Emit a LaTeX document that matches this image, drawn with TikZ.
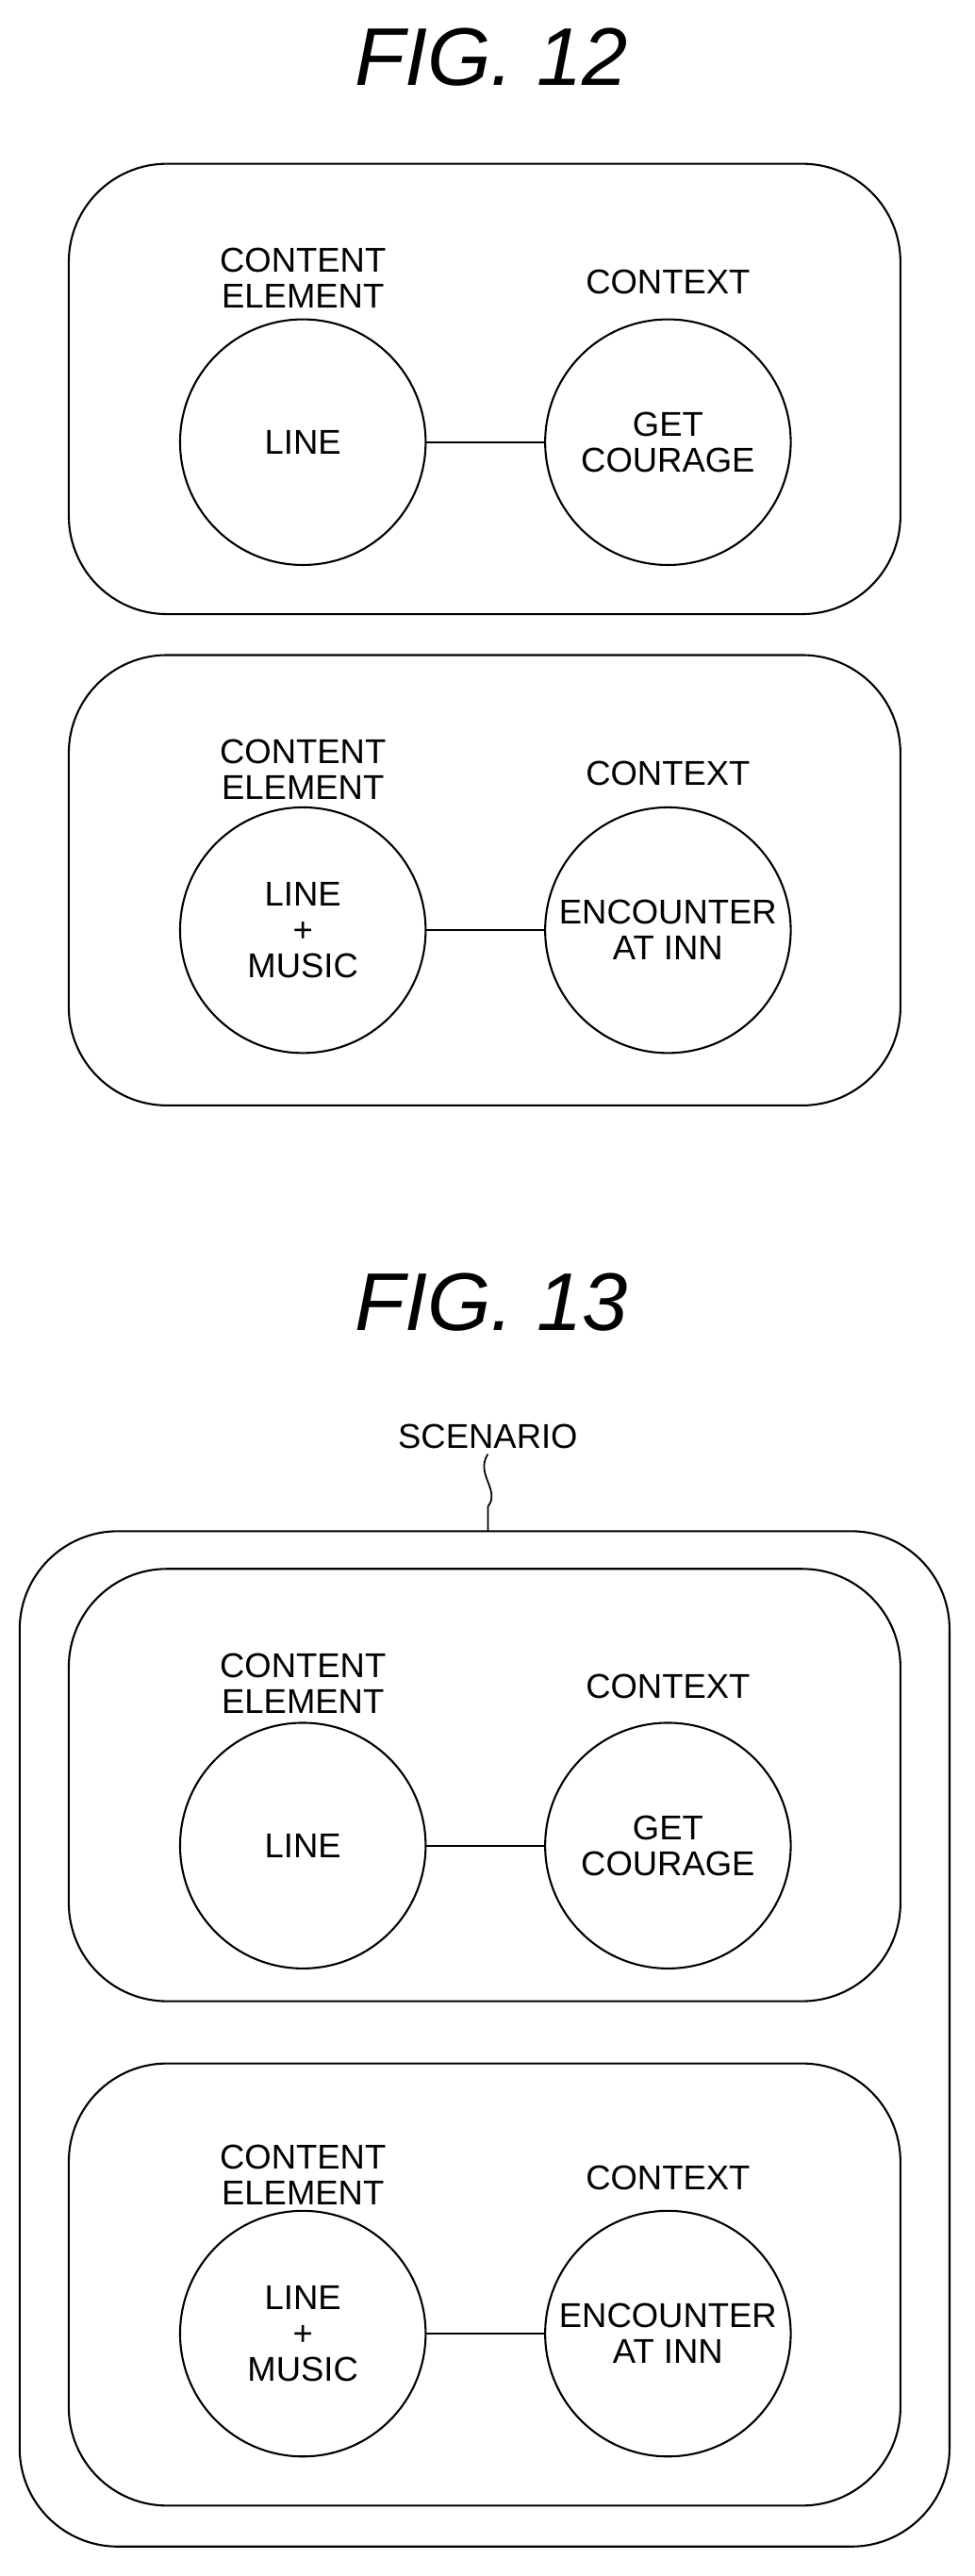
\documentclass[tikz,border=0pt]{standalone}
\usepackage{fontspec}
\setmainfont{Liberation Sans}
\begin{document}
\begin{tikzpicture}[x=1pt,y=1pt,yscale=-1,
	box/.style={draw,line width=1.2pt,rounded corners=60pt},
	circ/.style={draw,circle,line width=1.2pt,minimum size=150pt,inner sep=0pt,align=center,font=\fontsize{21}{22}\selectfont},
	lbl/.style={align=center,font=\fontsize{21}{22}\selectfont},
	fig/.style={font=\fontsize{50}{50}\selectfont\itshape}]
	\useasboundingbox (0,0) rectangle (595,1573);
	%FIG. 12
	\node[fig] (t12) at (300,35) {FIG. 12};
	\draw[box] (42,100) rectangle (550,375);
	\node[lbl] (ce1) at (185,170) {CONTENT\\ELEMENT};
	\node[lbl] (cx1) at (408,172) {CONTEXT};
	\node[circ] (a1) at (185,270) {LINE};
	\node[circ] (b1) at (408,270) {GET\\COURAGE};
	\draw[line width=1.2pt] (a1) -- (b1);
	\draw[box] (42,400) rectangle (550,675);
	\node[lbl] (ce2) at (185,470) {CONTENT\\ELEMENT};
	\node[lbl] (cx2) at (408,472) {CONTEXT};
	\node[circ] (a2) at (185,568) {LINE\\+\\MUSIC};
	\node[circ] (b2) at (408,568) {ENCOUNTER\\AT INN};
	\draw[line width=1.2pt] (a2) -- (b2);
	%FIG. 13
	\node[fig] (t13) at (300,795) {FIG. 13};
	\node[lbl] (sc) at (298,877) {SCENARIO};
	\coordinate (sq) at (298,935);
	\draw[line width=1pt] (sc.south) .. controls (290,900) and (306,910) .. (298,920) -- (sq);
	\draw[box] (12,935) rectangle (580,1555);
	\draw[box] (42,958) rectangle (550,1222);
	\node[lbl] (ce3) at (185,1028) {CONTENT\\ELEMENT};
	\node[lbl] (cx3) at (408,1030) {CONTEXT};
	\node[circ] (a3) at (185,1127) {LINE};
	\node[circ] (b3) at (408,1127) {GET\\COURAGE};
	\draw[line width=1.2pt] (a3) -- (b3);
	\draw[box] (42,1260) rectangle (550,1530);
	\node[lbl] (ce4) at (185,1328) {CONTENT\\ELEMENT};
	\node[lbl] (cx4) at (408,1330) {CONTEXT};
	\node[circ] (a4) at (185,1425) {LINE\\+\\MUSIC};
	\node[circ] (b4) at (408,1425) {ENCOUNTER\\AT INN};
	\draw[line width=1.2pt] (a4) -- (b4);
\end{tikzpicture}
\end{document}
